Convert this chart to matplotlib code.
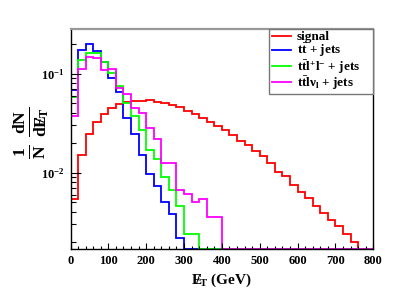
import numpy as np
import matplotlib
matplotlib.use("Agg")
import matplotlib.pyplot as plt
from matplotlib.lines import Line2D
from matplotlib.ticker import MultipleLocator, LogLocator, NullFormatter

plt.rcParams["font.family"] = ["Liberation Serif", "DejaVu Serif"]
plt.rcParams["font.weight"] = "bold"
plt.rcParams["mathtext.fontset"] = "custom"
plt.rcParams["mathtext.rm"] = "Liberation Serif:bold"
plt.rcParams["mathtext.bf"] = "Liberation Serif:bold"
plt.rcParams["mathtext.it"] = "Liberation Serif:italic:bold"

# missing E_T bins, 20 GeV wide, 0..800 GeV
edges = np.arange(0, 820, 20)

signal = [0.0054, 0.0149, 0.0244, 0.0325, 0.039, 0.0445, 0.049, 0.0515, 0.053, 0.053,
          0.0543, 0.052, 0.050, 0.0485, 0.0455, 0.042, 0.0392, 0.036, 0.0327, 0.0299,
          0.0272, 0.0240, 0.0211, 0.0189, 0.0165, 0.0147, 0.0126, 0.0101, 0.0093, 0.0075,
          0.0063, 0.0055, 0.0046, 0.0039, 0.0033, 0.0029, 0.0024, 0.0020, 0.0017, 0.0]

ttbar = [0.068, 0.173, 0.200, 0.171, 0.132, 0.091, 0.066, 0.036, 0.0244, 0.0151,
         0.0096, 0.0073, 0.0051, 0.0038, 0.0022, 0, 0, 0, 0, 0,
         0, 0, 0, 0, 0, 0, 0, 0, 0, 0,
         0, 0, 0, 0, 0, 0, 0, 0, 0, 0]

ttll = [0.0585, 0.137, 0.161, 0.161, 0.131, 0.102, 0.075, 0.051, 0.037, 0.027,
        0.017, 0.0137, 0.0090, 0.0067, 0.0046, 0.0024, 0.0024, 0, 0, 0,
        0, 0, 0, 0, 0, 0, 0, 0, 0, 0,
        0, 0, 0, 0, 0, 0, 0, 0, 0, 0]

ttlv = [0.037, 0.112, 0.148, 0.143, 0.110, 0.111, 0.072, 0.062, 0.045, 0.040,
        0.028, 0.0217, 0.0126, 0.0126, 0.0066, 0.0061, 0.0051, 0.0054, 0.0036, 0.0036,
        0, 0, 0, 0, 0, 0, 0, 0, 0, 0,
        0, 0, 0, 0, 0, 0, 0, 0, 0, 0]

labels = ["signal",
          r"$\mathbf{t\bar{t}}$ + jets",
          r"$\mathbf{t\bar{t}l^{+}l^{-}}$ + jets",
          r"$\mathbf{t\bar{t}l\nu_{l}}$ + jets"]
colors = ["#ff0000", "#0000ff", "#00ff00", "#ff00ff"]

ymin, ymax = 1.71e-3, 0.286

fig = plt.figure(figsize=(4.15, 2.91), dpi=100)
ax = fig.add_axes([70.5 / 415, 42.5 / 291, 302.8 / 415, 220 / 291])

for vals, c in zip([signal, ttbar, ttll, ttlv], colors):
    v = np.maximum(np.array(vals, dtype=float), ymin)
    ax.stairs(v, edges, baseline=None, color=c, lw=1.3)

ax.set_yscale("log")
ax.set_xlim(0, 800)
ax.set_ylim(ymin, ymax)

ax.xaxis.set_major_locator(MultipleLocator(100))
ax.xaxis.set_minor_locator(MultipleLocator(20))
ax.set_yticks([0.01, 0.1], labels=[r"$\mathbf{10^{-2}}$", r"$\mathbf{10^{-1}}$"])
ax.yaxis.set_minor_locator(LogLocator(base=10, subs=np.arange(2, 10)))
ax.yaxis.set_minor_formatter(NullFormatter())

ax.tick_params(axis="x", which="major", direction="in", length=4.3, width=0.8,
               labelsize=9, pad=5)
ax.tick_params(axis="x", which="minor", direction="in", length=2.2, width=0.8)
ax.tick_params(axis="y", which="major", direction="in", length=7, width=0.8,
               labelsize=9, pad=4)
ax.tick_params(axis="y", which="minor", direction="in", length=3.5, width=0.8)
for lab in ax.get_xticklabels():
    lab.set_fontweight("bold")

ax.spines["top"].set_color("#999999")
ax.spines["top"].set_linewidth(1.6)
for s in ["left", "bottom", "right"]:
    ax.spines[s].set_linewidth(1.0)

ax.set_xlabel(r"$\mathbf{E\!\!\!/_{T}}$ (GeV)", fontsize=11, fontweight="bold", labelpad=3)
fig.text(31 / 415, 1 - 133 / 291,
         r"$\mathbf{\frac{1}{N}\ \frac{dN}{dE\!\!\!/_{T}}}$",
         rotation=90, ha="center", va="center", fontsize=18)

handles = [Line2D([], [], color=c, lw=1.3) for c in colors]
x0 = (269 - 70.5) / 302.8
leg = ax.legend(handles, labels, loc="upper left", bbox_to_anchor=(x0, 0, 1 - x0, 1.0),
                mode="expand", borderaxespad=0, fancybox=False, framealpha=1,
                edgecolor="#777777", prop={"weight": "bold", "size": 9.5},
                handlelength=1.5, handletextpad=0.4, labelspacing=-0.1, borderpad=0.2)
leg.get_frame().set_linewidth(1.0)

fig.savefig("out.png", dpi=100)
